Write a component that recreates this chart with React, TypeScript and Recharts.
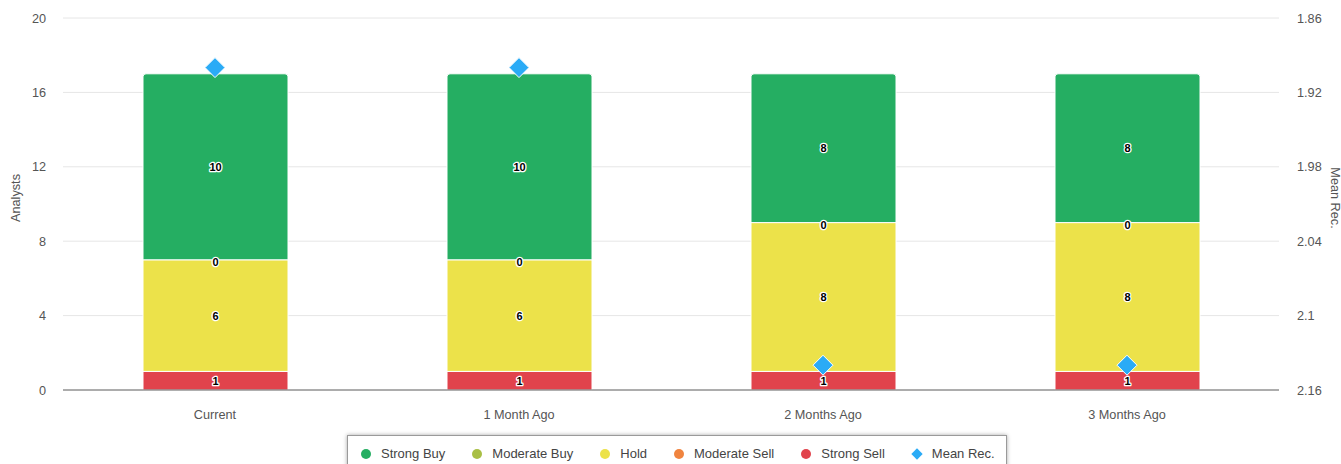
import React from 'react';
import {
  ComposedChart,
  Bar,
  Line,
  XAxis,
  YAxis,
  CartesianGrid,
  LabelList
} from 'recharts';

const categories = ['Current', '1 Month Ago', '2 Months Ago', '3 Months Ago'];
const strongBuy = [10, 10, 8, 8];
const moderateBuy = [0, 0, 0, 0];
const hold = [6, 6, 8, 8];
const moderateSell = [0, 0, 0, 0];
const strongSell = [1, 1, 1, 1];
const meanRec = [1.9, 1.9, 2.14, 2.14];

const leftTicks = [0, 4, 8, 12, 16, 20];
const rightTicks = [1.86, 1.92, 1.98, 2.04, 2.1, 2.16];

const data = categories.map((name, i) => ({
  name,
  strongBuy: strongBuy[i],
  moderateBuy: moderateBuy[i],
  hold: hold[i],
  moderateSell: moderateSell[i],
  strongSell: strongSell[i],
  meanRec: meanRec[i]
}));

const FONT = '"Liberation Sans", Arial, Helvetica, sans-serif';

const COLORS = {
  strongBuy: '#25ae62',
  moderateBuy: '#a9bf45',
  hold: '#ece24a',
  moderateSell: '#f0843f',
  strongSell: '#e1434c',
  mean: '#2aabf6'
};

const legendItems = [
  { label: 'Strong Buy', color: COLORS.strongBuy, shape: 'circle' },
  { label: 'Moderate Buy', color: COLORS.moderateBuy, shape: 'circle' },
  { label: 'Hold', color: COLORS.hold, shape: 'circle' },
  { label: 'Moderate Sell', color: COLORS.moderateSell, shape: 'circle' },
  { label: 'Strong Sell', color: COLORS.strongSell, shape: 'circle' },
  { label: 'Mean Rec.', color: COLORS.mean, shape: 'diamond' }
];

const valueText = (x: number, y: number, value: any) => (
  <text
    x={x}
    y={y}
    textAnchor="middle"
    dominantBaseline="central"
    fontFamily={FONT}
    fontSize={11}
    fontWeight="bold"
    fill="#000"
    stroke="#fff"
    strokeWidth={2.5}
    paintOrder="stroke"
    strokeLinejoin="round"
  >
    {value}
  </text>
);

// centred in the segment
const renderValue = (props: any) => {
  const { x, y, width, height, value } = props;
  return valueText(Number(x) + Number(width) / 2, Number(y) + Number(height) / 2, value);
};

// zero-height segment sitting on top of this one
const renderTopValue = (props: any) => {
  const { x, y, width, value } = props;
  return valueText(Number(x) + Number(width) / 2, Number(y) + 2, value);
};

const Diamond = (props: any) => {
  const { cx, cy } = props;
  if (cx == null || cy == null) return null;
  const r = 10;
  return (
    <path
      key={`d-${cx}`}
      d={`M${cx},${cy - r} L${cx + r},${cy} L${cx},${cy + r} L${cx - r},${cy} Z`}
      fill={COLORS.mean}
      stroke="#fff"
      strokeWidth={1}
    />
  );
};

const tickStyle = { fontFamily: FONT, fontSize: 12.7, fill: '#555' };

const App: React.FC = () => {
  return (
    <div style={{ position: 'absolute', left: 0, top: 0, width: 1341, height: 464, overflow: 'hidden', background: '#fff' }}>
      <ComposedChart
        width={1341}
        height={464}
        data={data}
        margin={{ top: 18, right: 0, bottom: 0, left: 0 }}
        barSize={145}
      >
        <CartesianGrid vertical={false} stroke="#e6e6e6" yAxisId="left" />
        <XAxis
          dataKey="name"
          height={74}
          tick={tickStyle}
          tickLine={false}
          tickSize={18}
          tickMargin={2}
          axisLine={{ stroke: '#666' }}
        />
        <YAxis
          yAxisId="left"
          width={63}
          domain={[0, 20]}
          ticks={leftTicks}
          tick={tickStyle}
          tickLine={false}
          axisLine={false}
          tickSize={15}
          tickMargin={2}
          label={() => (
            <text
              x={16}
              y={198}
              transform="rotate(-90, 16, 198)"
              textAnchor="middle"
              dominantBaseline="central"
              fontFamily={FONT}
              fontSize={12.7}
              fill="#555"
            >
              Analysts
            </text>
          )}
        />
        <YAxis
          yAxisId="right"
          orientation="right"
          width={62}
          domain={[1.86, 2.16]}
          reversed
          ticks={rightTicks}
          tick={tickStyle}
          tickLine={false}
          axisLine={false}
          tickSize={16}
          tickMargin={2}
          label={() => (
            <text
              x={1335}
              y={198}
              transform="rotate(90, 1335, 198)"
              textAnchor="middle"
              dominantBaseline="central"
              fontFamily={FONT}
              fontSize={12.7}
              fill="#555"
            >
              Mean Rec.
            </text>
          )}
        />
        <Bar yAxisId="left" dataKey="strongSell" stackId="a" fill={COLORS.strongSell} stroke="#fff" strokeWidth={1} isAnimationActive={false}>
          <LabelList dataKey="strongSell" content={renderValue} />
        </Bar>
        <Bar yAxisId="left" dataKey="moderateSell" stackId="a" fill={COLORS.moderateSell} stroke="#fff" strokeWidth={1} isAnimationActive={false} />
        <Bar yAxisId="left" dataKey="hold" stackId="a" fill={COLORS.hold} stroke="#fff" strokeWidth={1} isAnimationActive={false}>
          <LabelList dataKey="hold" content={renderValue} />
          <LabelList dataKey="moderateBuy" content={renderTopValue} />
        </Bar>
        <Bar yAxisId="left" dataKey="moderateBuy" stackId="a" fill={COLORS.moderateBuy} stroke="#fff" strokeWidth={1} isAnimationActive={false} />
        <Bar yAxisId="left" dataKey="strongBuy" stackId="a" fill={COLORS.strongBuy} stroke="#fff" strokeWidth={1} radius={[3, 3, 0, 0]} isAnimationActive={false}>
          <LabelList dataKey="strongBuy" content={renderValue} />
        </Bar>
        <Line
          yAxisId="right"
          dataKey="meanRec"
          stroke="none"
          dot={Diamond}
          activeDot={false}
          isAnimationActive={false}
        />
      </ComposedChart>
      <div
        style={{
          position: 'absolute',
          left: 347,
          top: 435,
          width: 660,
          height: 40,
          border: '1px solid #9a9a9a',
          boxShadow: '0 0 4px rgba(0,0,0,0.35)',
          background: '#fff',
          boxSizing: 'border-box',
          display: 'flex',
          alignItems: 'flex-start',
          paddingLeft: 13,
          paddingTop: 10,
          fontFamily: FONT,
          fontSize: 13,
          color: '#444'
        }}
      >
        {legendItems.map((it) => (
          <div key={it.label} style={{ display: 'flex', alignItems: 'center', marginRight: 27, lineHeight: '15px' }}>
            {it.shape === 'circle' ? (
              <span style={{ width: 10, height: 10, borderRadius: 5, background: it.color, display: 'inline-block', marginRight: 10 }} />
            ) : (
              <span style={{ width: 8, height: 8, background: it.color, display: 'inline-block', transform: 'rotate(45deg)', marginLeft: 1, marginRight: 11 }} />
            )}
            <span style={{ whiteSpace: 'nowrap' }}>{it.label}</span>
          </div>
        ))}
      </div>
    </div>
  );
};

export default App;
